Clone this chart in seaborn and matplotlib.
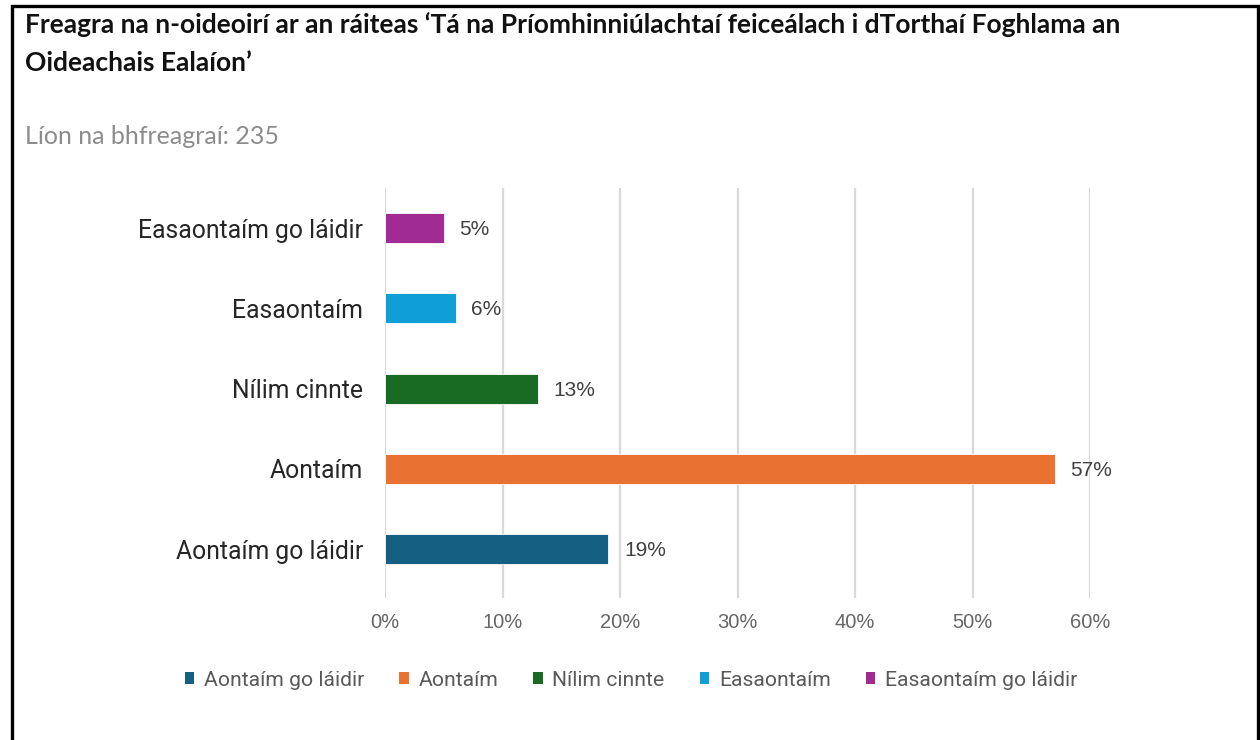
import matplotlib
matplotlib.use('Agg')
import matplotlib.pyplot as plt
from matplotlib.patches import Rectangle, Patch
from matplotlib.ticker import PercentFormatter
import pandas as pd
import seaborn as sns

title_lines = ['Freagra na n-oideoirí ar an ráiteas ‘Tá na Príomhinniúlachtaí feiceálach i dTorthaí Foghlama an',
               'Oideachais Ealaíon’']
subtitle = 'Líon na bhfreagraí: 235'

# categories top to bottom as drawn
categories = ['Easaontaím go láidir', 'Easaontaím', 'Nílim cinnte', 'Aontaím', 'Aontaím go láidir']
values = [5, 6, 13, 57, 19]
colors = ['#A02B93', '#0F9ED5', '#196B24', '#E97132', '#156082']
legend_order = ['Aontaím go láidir', 'Aontaím', 'Nílim cinnte', 'Easaontaím', 'Easaontaím go láidir']
x_ticks = [0, 10, 20, 30, 40, 50, 60]

df = pd.DataFrame({'cat': categories, 'val': values})
palette = dict(zip(categories, colors))

sns.set_style('white')
plt.rcParams['font.family'] = ['Roboto', 'DejaVu Sans']

fig = plt.figure(figsize=(12.6, 7.4), dpi=100)
ax = fig.add_axes([385 / 1260, 1 - 598 / 740, (1090 - 385) / 1260, (598 - 188) / 740])

sns.barplot(data=df, x='val', y='cat', hue='cat', order=categories, palette=palette,
            saturation=1, legend=False, width=0.375, edgecolor='white', linewidth=0.6,
            ax=ax, zorder=3)

ax.set_xlim(0, 60)
ax.set_ylim(4.61, -0.5)
ax.set_xticks(x_ticks)
ax.xaxis.set_major_formatter(PercentFormatter(decimals=0))
ax.grid(axis='x', color='#d9d9d9', linewidth=1.6, zorder=0)
ax.grid(axis='y', visible=False)
for s in ax.spines.values():
    s.set_visible(False)
ax.set_xlabel('')
ax.set_ylabel('')
ax.tick_params(axis='x', length=0, pad=11, labelsize=14.5, labelcolor='#666666')
ax.tick_params(axis='y', length=0, pad=16, labelsize=17.8, labelcolor='#262626')
for lab in ax.get_xticklabels():
    lab.set_family(['Liberation Sans', 'DejaVu Sans'])

for i, v in enumerate(values):
    ax.text(v + 1.35, i + 0.02, f'{v}%', va='center', ha='left', fontsize=15,
            color='#404040', family=['Liberation Sans', 'DejaVu Sans'])

handles = [Patch(facecolor=palette[c], edgecolor='none') for c in legend_order]
fig.legend(handles, legend_order, loc='center', bbox_to_anchor=(631 / 1260, 1 - 680 / 740),
           ncol=5, frameon=False, fontsize=15.2, handlelength=0.45, handleheight=0.45,
           handletextpad=0.45, columnspacing=1.67, labelcolor='#595959')

fig.text(25 / 1260, 1 - 25 / 740, title_lines[0], fontsize=19, fontweight='bold', va='center',
         ha='left', family=['Lato', 'DejaVu Sans'], color='#111111')
fig.text(25 / 1260, 1 - 63 / 740, title_lines[1], fontsize=19, fontweight='bold', va='center',
         ha='left', family=['Lato', 'DejaVu Sans'], color='#111111')
fig.text(25 / 1260, 1 - 137 / 740, subtitle, fontsize=18, va='center', ha='left',
         family=['Lato', 'DejaVu Sans'], color='#8c8c8c')

# frame around the panel
fig.add_artist(Rectangle((12 / 1260, -0.1), (1258 - 12) / 1260, 0.1 + 1 - 6 / 740,
                         transform=fig.transFigure, fill=False, edgecolor='black',
                         linewidth=2.4))

fig.savefig('out.png', dpi=100)
